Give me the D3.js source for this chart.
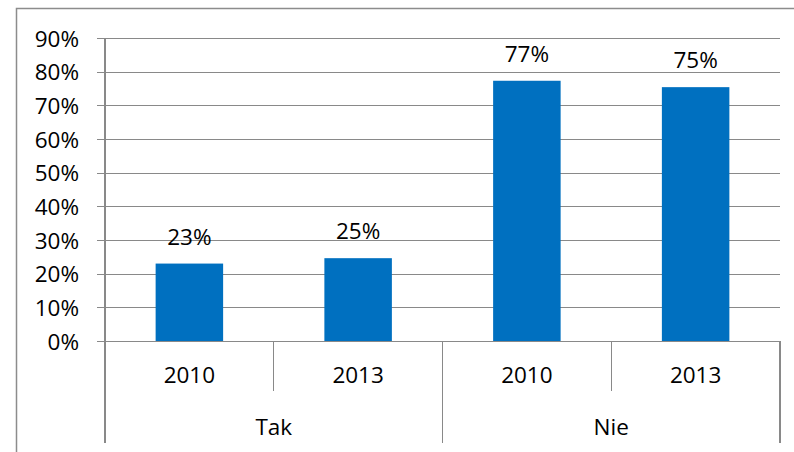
<!DOCTYPE html>
<html lang="pl">
<head>
<meta charset="UTF-8">
<title>Tak / Nie 2010-2013</title>
<script src="https://d3js.org/d3.v7.min.js"></script>
<style>
  body { margin: 0; background: #fff; }
  text { font-family: "Open Sans", sans-serif; fill: #000; }
</style>
</head>
<body>
<svg id="chart" width="794" height="452"></svg>
<script>
// data
const groups = ["Tak", "Nie"];
const years = ["2010", "2013"];
const values = [0.23, 0.246, 0.773, 0.754];
const yTicks = [0, 0.1, 0.2, 0.3, 0.4, 0.5, 0.6, 0.7, 0.8, 0.9];

const svg = d3.select("#chart");
const gridColor = "#898989";
const plotLeft = 105, plotRight = 780, plotTop = 38, plotBottom = 341;

// outer chart frame (cut off at right and bottom like the original)
svg.append("rect")
  .attr("x", 16.5).attr("y", 8.5)
  .attr("width", 820).attr("height", 480)
  .attr("fill", "none").attr("stroke", "#8c8c8c").attr("stroke-width", 1.5);

// one slot per (group, year)
const slots = [];
groups.forEach(function (g, gi) {
  years.forEach(function (yr, yi) {
    slots.push({ group: g, year: yr, key: g + "-" + yr, value: values[gi * years.length + yi] });
  });
});

const x = d3.scaleBand()
  .domain(slots.map(d => d.key))
  .range([plotLeft, plotRight])
  .paddingInner(0.6)
  .paddingOuter(0.3);

const y = d3.scaleLinear().domain([0, 0.9]).range([plotBottom, plotTop]);

// gridlines + value axis
const yAxis = d3.axisLeft(y)
  .tickValues(yTicks)
  .tickFormat(d3.format(".0%"))
  .tickSize(-(plotRight - plotLeft))
  .tickPadding(26);

const ga = svg.append("g").attr("transform", "translate(" + plotLeft + ",0)").call(yAxis);
ga.select(".domain").remove();
ga.selectAll(".tick line").attr("stroke", gridColor).attr("stroke-width", 1.3).attr("x1", -8).attr("shape-rendering", "crispEdges");
ga.selectAll(".tick text").style("font-size", "22.5px").attr("dy", "0.36em");

svg.append("line")
  .attr("x1", plotLeft).attr("x2", plotLeft).attr("y1", plotTop).attr("y2", plotBottom)
  .attr("stroke", gridColor).attr("stroke-width", 1.3).attr("shape-rendering", "crispEdges");

// bars
svg.selectAll("rect.bar")
  .data(slots)
  .join("rect")
  .attr("class", "bar")
  .attr("x", d => x(d.key))
  .attr("width", x.bandwidth())
  .attr("y", d => y(d.value))
  .attr("height", d => y(0) - y(d.value))
  .attr("fill", "#0070c0");

// value labels
svg.selectAll("text.val")
  .data(slots)
  .join("text")
  .attr("class", "val")
  .attr("x", d => x(d.key) + x.bandwidth() / 2)
  .attr("y", d => y(d.value) - 19)
  .attr("text-anchor", "middle")
  .style("font-size", "22.5px")
  .text(d => d3.format(".0%")(d.value));

// category axis (two levels)
const step = (plotRight - plotLeft) / slots.length;
const sep = d3.range(slots.length + 1).map(i => plotLeft + i * step);
svg.selectAll("line.sep")
  .data(sep)
  .join("line")
  .attr("class", "sep")
  .attr("x1", d => d).attr("x2", d => d)
  .attr("y1", plotBottom)
  .attr("y2", (d, i) => i % years.length === 0 ? 443 : 391)
  .attr("stroke", gridColor).attr("stroke-width", 1.3).attr("shape-rendering", "crispEdges");

svg.selectAll("text.year")
  .data(slots)
  .join("text")
  .attr("class", "year")
  .attr("x", d => x(d.key) + x.bandwidth() / 2)
  .attr("y", 383)
  .attr("text-anchor", "middle")
  .style("font-size", "22.5px")
  .text(d => d.year);

svg.selectAll("text.group")
  .data(groups)
  .join("text")
  .attr("class", "group")
  .attr("x", (d, i) => plotLeft + (i + 0.5) * step * years.length)
  .attr("y", 435)
  .attr("text-anchor", "middle")
  .style("font-size", "22.5px")
  .text(d => d);
</script>
</body>
</html>
